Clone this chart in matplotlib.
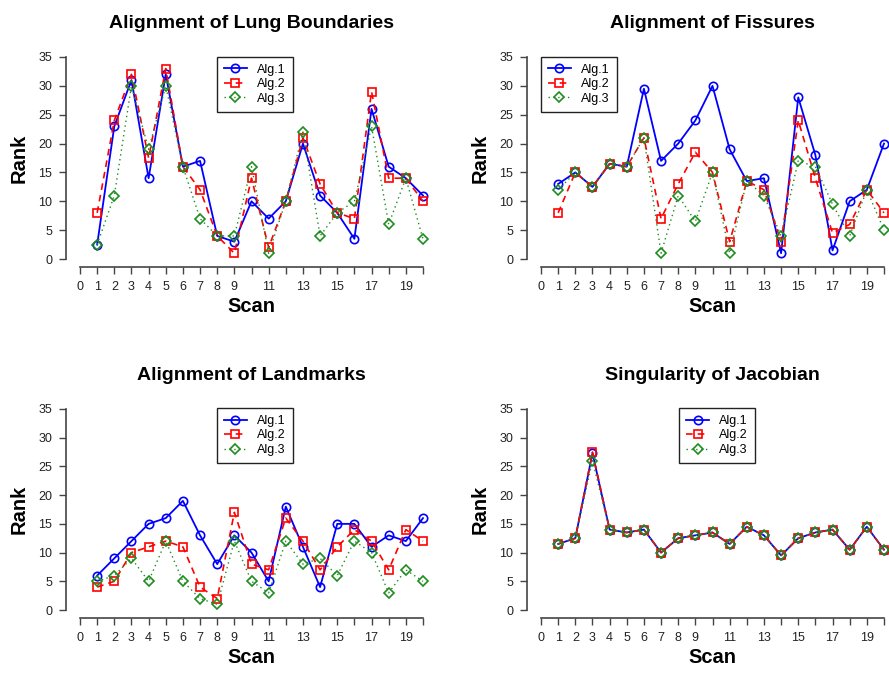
import matplotlib

matplotlib.use("Agg")
import matplotlib.pyplot as plt
import numpy as np

plt.rcParams["font.family"] = ["Liberation Sans", "DejaVu Sans"]

scans = np.arange(1, 21)

titles = [
    "Alignment of Lung Boundaries",
    "Alignment of Fissures",
    "Alignment of Landmarks",
    "Singularity of Jacobian",
]
series_names = ["Alg.1", "Alg.2", "Alg.3"]

lung_alg1 = [2.5, 23, 31, 14, 32, 16, 17, 4, 3, 10, 7, 10, 20, 11, 8, 3.5, 26, 16, 14, 11]
lung_alg2 = [8, 24, 32, 17.5, 33, 16, 12, 4, 1, 14, 2, 10, 21, 13, 8, 7, 29, 14, 14, 10]
lung_alg3 = [2.5, 11, 30, 19, 30, 16, 7, 4, 4, 16, 1, 10, 22, 4, 8, 10, 23, 6, 14, 3.5]

fiss_alg1 = [13, 15, 12.5, 16.5, 16, 29.5, 17, 20, 24, 30, 19, 13.5, 14, 1, 28, 18, 1.5, 10, 12, 20]
fiss_alg2 = [8, 15, 12.5, 16.5, 16, 21, 7, 13, 18.5, 15, 3, 13.5, 12, 3, 24, 14, 4.5, 6, 12, 8]
fiss_alg3 = [12, 15, 12.5, 16.5, 16, 21, 1, 11, 6.5, 15, 1, 13.5, 11, 4, 17, 16, 9.5, 4, 12, 5]

land_alg1 = [6, 9, 12, 15, 16, 19, 13, 8, 13, 10, 5, 18, 11, 4, 15, 15, 11, 13, 12, 16]
land_alg2 = [4, 5, 10, 11, 12, 11, 4, 2, 17, 8, 7, 16, 12, 7, 11, 14, 12, 7, 14, 12]
land_alg3 = [5, 6, 9, 5, 12, 5, 2, 1, 12, 5, 3, 12, 8, 9, 6, 12, 10, 3, 7, 5]

jac_alg1 = [11.5, 12.5, 27.3, 14, 13.5, 14, 10, 12.5, 13, 13.5, 11.5, 14.5, 13, 9.5, 12.5, 13.5, 14, 10.5, 14.5, 10.5]
jac_alg2 = [11.5, 12.5, 27.5, 14, 13.5, 14, 10, 12.5, 13, 13.5, 11.5, 14.5, 13, 9.5, 12.5, 13.5, 14, 10.5, 14.5, 10.5]
jac_alg3 = [11.5, 12.5, 26, 14, 13.5, 14, 10, 12.5, 13, 13.5, 11.5, 14.5, 13, 9.5, 12.5, 13.5, 14, 10.5, 14.5, 10.5]

panels = [
    (lung_alg1, lung_alg2, lung_alg3),
    (fiss_alg1, fiss_alg2, fiss_alg3),
    (land_alg1, land_alg2, land_alg3),
    (jac_alg1, jac_alg2, jac_alg3),
]

x_ticks = list(range(0, 21))
x_ticklabels = [str(t) if (t < 10 or t % 2 == 1) else "" for t in x_ticks]
y_ticks = list(range(0, 36, 5))

styles = [
    dict(color="#0000FF", linestyle="-", marker="o", lw=1.3, ms=6),
    dict(color="#FF0000", linestyle=(0, (4, 3)), marker="s", lw=1.2, ms=5.5),
    dict(color="#1E8C1E", linestyle=(0, (1, 2.5)), marker="D", lw=1.0, ms=5),
]

# axes boxes in pixels: (left, top, right, bottom)
W, H = 889, 675
boxes = [
    (66.3, 48.9, 436.7, 267.1),
    (527.3, 48.9, 897.7, 267.1),
    (66.3, 400.9, 436.7, 618.1),
    (527.3, 400.9, 897.7, 618.1),
]
# legend upper-left corner in axes fractions
legend_anchor = [(0.407, 0.963), (0.037, 0.963), (0.407, 0.967), (0.41, 0.967)]

fig = plt.figure(figsize=(W / 100, H / 100), dpi=100)

for i, (data, title) in enumerate(zip(panels, titles)):
    l, t, r, b = boxes[i]
    ax = fig.add_axes([l / W, 1 - b / H, (r - l) / W, (b - t) / H])
    for vals, name, st in zip(data, series_names, styles):
        ax.plot(scans, vals, color=st["color"], linestyle=st["linestyle"], lw=st["lw"],
                marker=st["marker"], ms=st["ms"], mfc="none", mew=1.2, label=name)
    ax.set_xlim(-0.8, 20.8)
    ax.set_ylim(-1.4, 36.4)
    for side in ("top", "right"):
        ax.spines[side].set_visible(False)
    ax.spines["left"].set_bounds(0, 35)
    ax.spines["bottom"].set_bounds(0, 20)
    for side in ("left", "bottom"):
        ax.spines[side].set_color("#444444")
        ax.spines[side].set_linewidth(1.2)
    ax.set_xticks(x_ticks)
    ax.set_xticklabels(x_ticklabels)
    ax.set_yticks(y_ticks)
    ax.tick_params(direction="out", length=5, width=1, color="#444444", labelsize=9,
                   labelcolor="#222222", pad=5)
    ax.set_xlabel("Scan", fontsize=14.5, fontweight="bold", labelpad=3)
    ax.set_ylabel("Rank", fontsize=14.5, fontweight="bold", labelpad=7)
    ax.set_title(title, fontsize=14, fontweight="bold", pad=15)
    leg = ax.legend(loc="upper left", bbox_to_anchor=legend_anchor[i], fontsize=9,
                    frameon=True, fancybox=False, edgecolor="#222222", framealpha=1,
                    handlelength=1.85, borderpad=0.55, labelspacing=0.2,
                    handletextpad=0.8, borderaxespad=0)
    leg.get_frame().set_linewidth(1.0)

fig.savefig("out.png", dpi=100)
